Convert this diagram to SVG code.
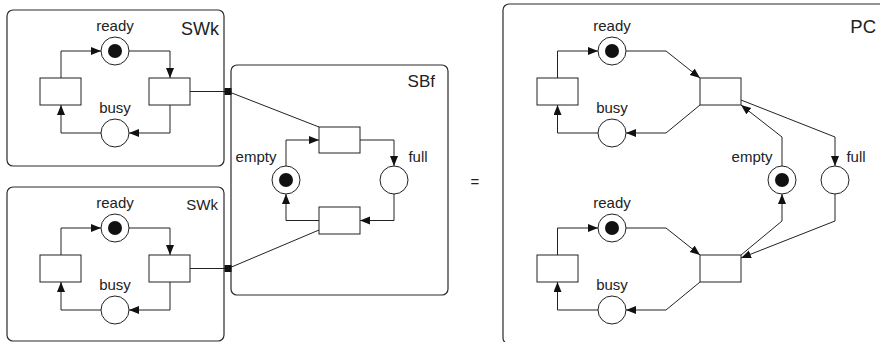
<svg xmlns="http://www.w3.org/2000/svg" width="880" height="342" viewBox="0 0 880 342">
  <style>
    .box { fill: none; stroke: #2a2a2a; stroke-width: 1.2; }
    .place { fill: #fff; stroke: #222; stroke-width: 1; }
    .token { fill: #111; }
    .trans { fill: #fff; stroke: #222; stroke-width: 1; }
    .arc { fill: none; stroke: #222; stroke-width: 1; }
    .arc-a { fill: none; stroke: #222; stroke-width: 1; marker-end: url(#head); }
    .port { fill: #111; }
    .lbl { font-family: "Liberation Sans", Arial, sans-serif; font-size: 15px; fill: #222; text-anchor: middle; }
    .title { font-family: "Liberation Sans", Arial, sans-serif; fill: #222; text-anchor: end; }
  </style>
  <defs>
    <marker id="head" markerUnits="userSpaceOnUse" markerWidth="11" markerHeight="9" refX="10" refY="4" orient="auto">
      <path d="M0,0 L10,4 L0,8 z" fill="#111"/>
    </marker>
  </defs>
  <rect width="880" height="342" fill="#fff"/>

  <!-- component boxes -->
  <g id="swk1">
    <rect class="box" x="7" y="10" width="217" height="156" rx="6"/>
    <text class="title" x="219" y="35" font-size="18">SWk</text>
  </g>
  <g id="swk2">
    <rect class="box" x="7" y="187" width="217" height="154" rx="6"/>
    <text class="title" x="218" y="210" font-size="15">SWk</text>
  </g>
  <g id="sbf">
    <rect class="box" x="231" y="65" width="217" height="230" rx="6"/>
    <text class="title" x="435" y="87" font-size="17">SBf</text>
  </g>
  <g id="pc">
    <rect class="box" x="503" y="4" width="390" height="340" rx="6"/>
    <text class="title" x="876" y="33" font-size="18.5">PC</text>
  </g>
  <g id="equals">
    <text class="lbl" x="475" y="187">=</text>
  </g>

  <!-- connectors -->
  <g id="connectors">
    <!-- SWk (upper) -->
    <path class="arc-a" d="M61,78 V51 H101"/>
    <path class="arc-a" d="M129,51 H170 V78"/>
    <path class="arc-a" d="M170,105 V133 H129"/>
    <path class="arc-a" d="M101,133 H61 V105"/>
    <path class="arc" d="M190,91.5 H228"/>
    <!-- SWk (lower) -->
    <path class="arc-a" d="M61,255 V228 H101"/>
    <path class="arc-a" d="M129,228 H170 V255"/>
    <path class="arc-a" d="M170,282 V310 H129"/>
    <path class="arc-a" d="M101,310 H61 V282"/>
    <path class="arc" d="M190,268.5 H228"/>
    <!-- SBf -->
    <path class="arc-a" d="M286,166 V140 H319"/>
    <path class="arc-a" d="M360,140 H394 V166"/>
    <path class="arc-a" d="M394,194 V220.5 H360"/>
    <path class="arc-a" d="M319,220.5 H286 V194"/>
    <path class="arc" d="M228,91.5 L319,127"/>
    <path class="arc" d="M228,268.5 L319,230"/>
    <!-- PC (upper half) -->
    <path class="arc-a" d="M557.5,78 V51 H598"/>
    <path class="arc-a" d="M626,51 H666 L700,78"/>
    <path class="arc-a" d="M700,105 L666,133 H626"/>
    <path class="arc-a" d="M598,133 H557.5 V105"/>
    <path class="arc-a" d="M741,100 L835,137 V166"/>
    <path class="arc-a" d="M782,166 V137 L741,105"/>
    <!-- PC (lower half) -->
    <path class="arc-a" d="M557.5,255 V228 H598"/>
    <path class="arc-a" d="M626,228 H666 L700,255"/>
    <path class="arc-a" d="M700,282 L666,310 H626"/>
    <path class="arc-a" d="M598,310 H557.5 V282"/>
    <path class="arc-a" d="M741,255 L782,221 V194"/>
    <path class="arc-a" d="M835,194 V221 L741,258"/>
  </g>

  <!-- ports -->
  <g id="port1"><rect class="port" x="224.5" y="88" width="7" height="7"/></g>
  <g id="port2"><rect class="port" x="224.5" y="265" width="7" height="7"/></g>

  <!-- SWk upper nodes -->
  <g id="swk1-ready">
    <circle class="place" cx="115" cy="51" r="14"/>
    <circle class="token" cx="115" cy="51" r="7"/>
    <text class="lbl" x="115" y="31">ready</text>
  </g>
  <g id="swk1-busy">
    <circle class="place" cx="115" cy="133" r="14"/>
    <text class="lbl" x="115" y="113">busy</text>
  </g>
  <g id="swk1-t1"><rect class="trans" x="40" y="78" width="41" height="27"/></g>
  <g id="swk1-t2"><rect class="trans" x="149" y="78" width="41" height="27"/></g>

  <!-- SWk lower nodes -->
  <g id="swk2-ready">
    <circle class="place" cx="115" cy="228" r="14"/>
    <circle class="token" cx="115" cy="228" r="7"/>
    <text class="lbl" x="115" y="208">ready</text>
  </g>
  <g id="swk2-busy">
    <circle class="place" cx="115" cy="310" r="14"/>
    <text class="lbl" x="115" y="290">busy</text>
  </g>
  <g id="swk2-t1"><rect class="trans" x="40" y="255" width="41" height="27"/></g>
  <g id="swk2-t2"><rect class="trans" x="149" y="255" width="41" height="27"/></g>

  <!-- SBf nodes -->
  <g id="sbf-empty">
    <circle class="place" cx="286" cy="180" r="14"/>
    <circle class="token" cx="286" cy="180" r="7"/>
    <text class="lbl" x="256" y="162">empty</text>
  </g>
  <g id="sbf-full">
    <circle class="place" cx="394" cy="180" r="14"/>
    <text class="lbl" x="418" y="162">full</text>
  </g>
  <g id="sbf-t1"><rect class="trans" x="319" y="127" width="41" height="26"/></g>
  <g id="sbf-t2"><rect class="trans" x="319" y="207" width="41" height="27"/></g>

  <!-- PC nodes -->
  <g id="pc-ready1">
    <circle class="place" cx="612" cy="51" r="14"/>
    <circle class="token" cx="612" cy="51" r="7"/>
    <text class="lbl" x="612" y="31">ready</text>
  </g>
  <g id="pc-busy1">
    <circle class="place" cx="612" cy="133" r="14"/>
    <text class="lbl" x="612" y="113">busy</text>
  </g>
  <g id="pc-t1"><rect class="trans" x="537" y="78" width="41" height="27"/></g>
  <g id="pc-t2"><rect class="trans" x="700" y="78" width="41" height="27"/></g>
  <g id="pc-ready2">
    <circle class="place" cx="612" cy="228" r="14"/>
    <circle class="token" cx="612" cy="228" r="7"/>
    <text class="lbl" x="612" y="208">ready</text>
  </g>
  <g id="pc-busy2">
    <circle class="place" cx="612" cy="310" r="14"/>
    <text class="lbl" x="612" y="290">busy</text>
  </g>
  <g id="pc-t3"><rect class="trans" x="537" y="255" width="41" height="27"/></g>
  <g id="pc-t4"><rect class="trans" x="700" y="255" width="41" height="27"/></g>
  <g id="pc-empty">
    <circle class="place" cx="782" cy="180" r="14"/>
    <circle class="token" cx="782" cy="180" r="7"/>
    <text class="lbl" x="752" y="162">empty</text>
  </g>
  <g id="pc-full">
    <circle class="place" cx="835" cy="180" r="14"/>
    <text class="lbl" x="856" y="162">full</text>
  </g>
</svg>
